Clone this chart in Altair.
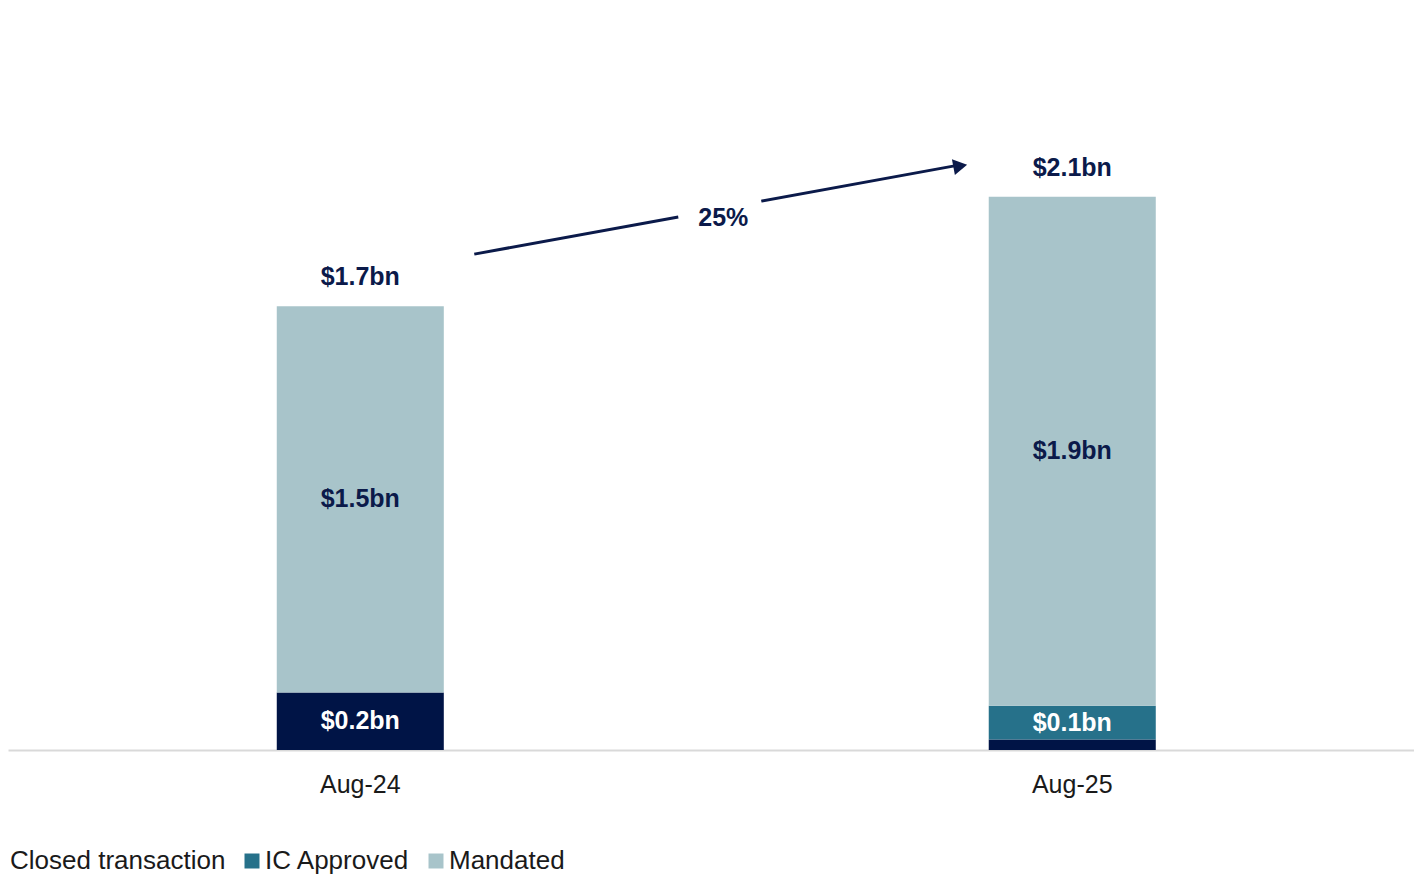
import altair as alt
import pandas as pd

# ---- data ----
periods = ["Aug-24", "Aug-25"]
series = ["Closed transaction", "IC Approved", "Mandated"]
closed = [0.22, 0.04]
ic_approved = [0.0, 0.13]
mandated = [1.48, 1.95]
closed_labels = ["$0.2bn", ""]
ic_labels = ["", "$0.1bn"]
mandated_labels = ["$1.5bn", "$1.9bn"]
total_labels = ["$1.7bn", "$2.1bn"]
growth_label = "25%"

colors = ["#001446", "#26718A", "#A8C4CA"]
label_colors = ["#FFFFFF", "#FFFFFF", "#0B1A4A"]
NAVY = "#0B1A4A"
FONT = "Liberation Sans"

rows = []
for i, p in enumerate(periods):
    start = 0.0
    for s, vals, labs, lc in zip(series, [closed, ic_approved, mandated],
                                  [closed_labels, ic_labels, mandated_labels], label_colors):
        v = vals[i]
        rows.append(dict(period=p, series=s, value=v, start=start, end=start + v,
                         mid=start + v / 2, label=labs[i], lcolor=lc))
        start += v
df = pd.DataFrame(rows)
df = df[df["value"] > 0]

tot = pd.DataFrame(dict(period=periods,
                        total=[c + i + m for c, i, m in zip(closed, ic_approved, mandated)],
                        label=total_labels))

W, H = 1406, 742
ydom = [0, 2.843]

xscale = alt.Scale(domain=periods, paddingInner=0.7654, paddingOuter=0.3701, align=0.51)
yscale = alt.Scale(domain=ydom, nice=False, zero=True)

x = alt.X("period:N", scale=xscale, sort=periods,
          axis=alt.Axis(title=None, labelAngle=0, ticks=False, tickSize=0, labelPadding=22,
                        labelFontSize=25, labelFont=FONT, labelColor="#1A1A1A",
                        domainColor="#D9D9D9", domainWidth=2, grid=False))

color = alt.Color("series:N", scale=alt.Scale(domain=series, range=colors),
                  legend=alt.Legend(title=None, orient="none", legendX=-24, legendY=840,
                                    direction="horizontal", symbolSize=225,
                                    symbolStrokeWidth=0, symbolOpacity=1,
                                    labelFontSize=26, labelFont=FONT, labelColor="#1A1A1A",
                                    labelOffset=0, columnPadding=13, labelLimit=400))

bars = alt.Chart(df).mark_bar().encode(
    x=x,
    y=alt.Y("start:Q", scale=yscale, axis=None),
    y2="end:Q",
    color=color,
)

# helper layer (clipped out of view) that supplies the legend swatch shapes
legend_pts = alt.Chart(df).mark_point(filled=True, clip=True, size=225, opacity=1).encode(
    x=alt.X("period:N", sort=periods),
    y=alt.datum(-1),
    color=alt.Color("series:N"),
    shape=alt.Shape("series:N", scale=alt.Scale(domain=series, range=["M0,0", "square", "square"])),
)

seg_text = alt.Chart(df).mark_text(font=FONT, fontSize=25, fontWeight="bold",
                                   baseline="middle").encode(
    x=alt.X("period:N", sort=periods),
    y="mid:Q",
    text="label:N",
    color=alt.Color("lcolor:N", scale=None),
)

tot_text = alt.Chart(tot).mark_text(font=FONT, fontSize=25, fontWeight="bold",
                                    baseline="middle", dy=-29, color=NAVY).encode(
    x=alt.X("period:N", sort=periods),
    y="total:Q",
    text="label:N",
)

arrow1 = pd.DataFrame(dict(x=["Aug-24"], x2=["Aug-24"], y=[1.900], y2=[2.042]))
arrow2 = pd.DataFrame(dict(x=["Aug-24"], x2=["Aug-25"], y=[2.103], y2=[2.240]))
seg1 = alt.Chart(arrow1).mark_rule(color=NAVY, strokeWidth=3, xOffset=114, x2Offset=318).encode(
    x=alt.X("x:N", sort=periods), x2="x2:N", y="y:Q", y2="y2:Q")
seg2 = alt.Chart(arrow2).mark_rule(color=NAVY, strokeWidth=3, xOffset=401, x2Offset=-115).encode(
    x=alt.X("x:N", sort=periods), x2="x2:N", y="y:Q", y2="y2:Q")
head = alt.Chart(pd.DataFrame(dict(x=["Aug-25"], y=[2.238]))).mark_point(
    shape="triangle-right", filled=True, opacity=1, color=NAVY, size=260, angle=349.5,
    xOffset=-112).encode(x=alt.X("x:N", sort=periods), y="y:Q")
growth = alt.Chart(pd.DataFrame(dict(x=["Aug-24"], y=[2.038], t=[growth_label]))).mark_text(
    font=FONT, fontSize=25, fontWeight="bold", color=NAVY, baseline="middle", xOffset=363).encode(
    x=alt.X("x:N", sort=periods), y="y:Q", text="t:N")

chart = alt.layer(bars, legend_pts, seg_text, tot_text, seg1, seg2, head, growth).properties(
    width=W, height=H,
    autosize=alt.AutoSizeParams(type="none"),
    padding={"left": 0, "right": 0, "top": 0, "bottom": 126},
).configure_view(stroke=None)

chart.save("out.html", embed_options={"renderer": "svg", "actions": False})
